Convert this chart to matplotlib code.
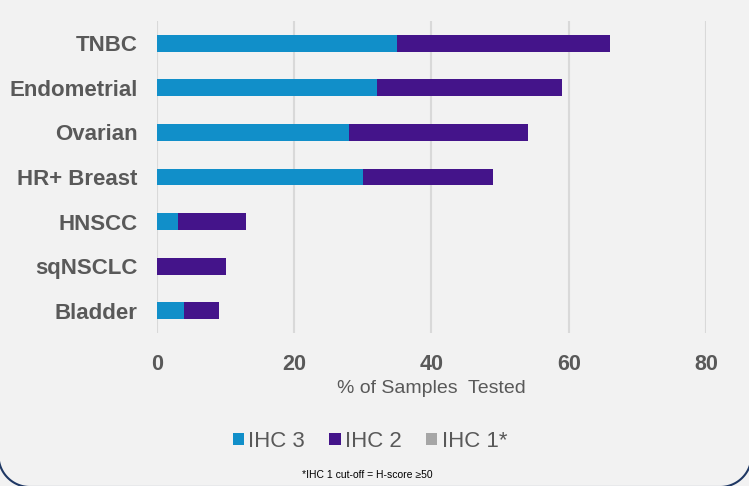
import matplotlib
matplotlib.use("Agg")
import numpy as np
import matplotlib.pyplot as plt
from matplotlib.lines import Line2D
from matplotlib.transforms import IdentityTransform

plt.rcParams['font.family'] = ['Liberation Sans', 'DejaVu Sans']

cancers = ['TNBC', 'Endometrial', 'Ovarian', 'HR+ Breast', 'HNSCC', 'sqNSCLC', 'Bladder']
ihc3 = [35, 32, 28, 30, 3, 0, 4]
ihc2 = [31, 27, 26, 19, 10, 10, 5]
ihc1 = [0, 0, 0, 0, 0, 0, 0]
xticks = [0, 20, 40, 60, 80]

c3 = '#118fc9'
c2 = '#44148a'
c1 = '#a6a6a6'
txt = '#595959'
bg = '#f2f2f2'

fig = plt.figure(figsize=(7.49, 4.86), dpi=100, facecolor=bg)
ax = fig.add_axes([0.2096, 0.3148, 0.733, 0.642])
ax.set_facecolor(bg)

y = range(len(cancers))
left2 = [a for a in ihc3]
left1 = [a + b for a, b in zip(ihc3, ihc2)]
h = 0.38
ax.barh(y, ihc3, height=h, color=c3, label='IHC 3')
ax.barh(y, ihc2, left=left2, height=h, color=c2, label='IHC 2')
ax.barh(y, ihc1, left=left1, height=h, color=c1, label='IHC 1*')

ax.set_ylim(len(cancers) - 0.5, -0.5)
ax.set_xlim(0, 80)
ax.set_yticks(list(y))
ax.set_yticklabels(cancers, fontsize=16, fontweight='bold', color=txt)
ax.set_xticks(xticks)
ax.set_xticklabels([str(t) for t in xticks], fontsize=15.5, fontweight='bold', color=txt)
ax.tick_params(axis='both', length=0)
ax.tick_params(axis='y', pad=14)
ax.tick_params(axis='x', pad=15)
ax.xaxis.grid(True, color='#d9d9d9', lw=1.5)
ax.set_axisbelow(True)
for s in ax.spines.values():
    s.set_visible(False)
ax.set_xlabel('% of Samples  Tested', fontsize=14, color=txt, labelpad=4)

leg = fig.legend(loc='center', bbox_to_anchor=(0.494, 0.092), ncol=3, frameon=False,
                 fontsize=16, handlelength=0.5, handleheight=0.5, handletextpad=0.2,
                 columnspacing=1.1)
for t in leg.get_texts():
    t.set_color(txt)

fig.text(0.49, 0.023, '*IHC 1 cut-off = H-score \u226550', fontsize=7.5, ha='center', va='center')

# rounded frame, only the bottom corners show inside the figure
r = 31.5
xl, xr, yb = -1.5, 751.5, -1.0
t = np.linspace(0, np.pi / 2, 40)
px = list(xl + r - r * np.sin(t[::-1])) + list(xr - r + r * np.sin(t))
py = list(yb + r - r * np.cos(t[::-1])) + list(yb + r - r * np.cos(t))
px = [xl] + px + [xr]
py = [600] + py + [600]
fig.lines.append(Line2D(px, py, transform=IdentityTransform(), color='#1f3864', lw=1.5))

fig.savefig('out.png', dpi=100, facecolor=bg)
